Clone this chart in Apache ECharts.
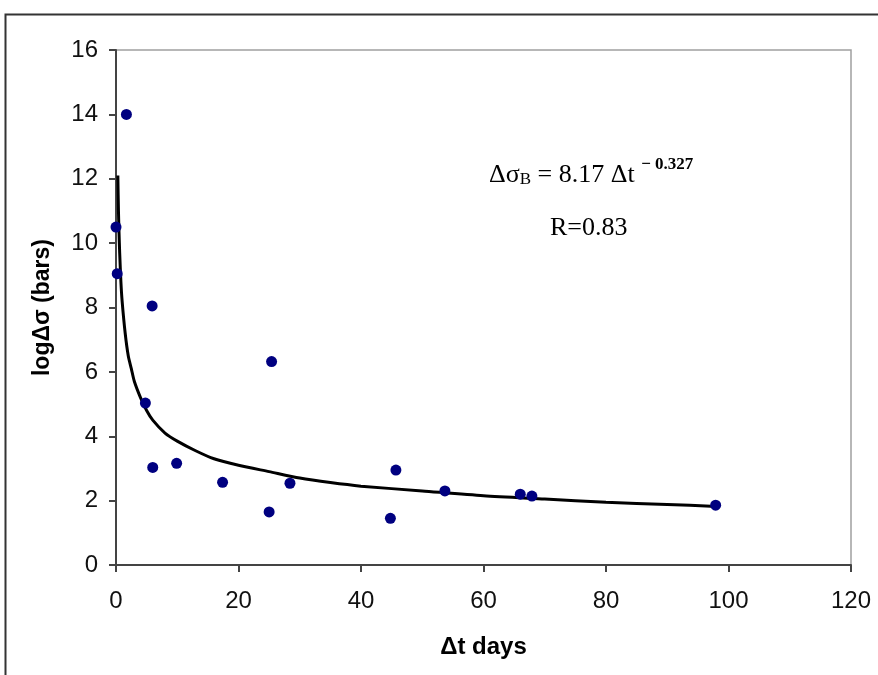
<!DOCTYPE html>
<html>
<head>
<meta charset="utf-8">
<script src="https://cdn.jsdelivr.net/npm/echarts@6/dist/echarts.min.js"></script>
<style>
html,body{margin:0;padding:0;background:#fff;}
#chart{width:878px;height:675px;}
</style>
</head>
<body>
<div id="chart"></div>
<script>
// Observed data points (Δt days, logΔσ bars)
var pointX = [1.7, 0.0, 0.2, 5.9, 4.8, 6.0, 9.9, 17.4, 25.0, 25.4, 28.4, 44.8, 45.7, 53.7, 66.0, 67.9, 97.9];
var pointY = [14.0, 10.5, 9.05, 8.05, 5.03, 3.03, 3.16, 2.57, 1.65, 6.32, 2.54, 1.45, 2.95, 2.30, 2.20, 2.14, 1.86];

// Fitted curve
var curveX = [0.3, 0.4, 0.5, 0.6, 0.8, 1.0, 1.5, 2.0, 2.5, 3.0, 4.0, 5.0, 6.0, 8.0, 10, 13, 16, 20, 25, 30, 35, 40, 50, 60, 70, 80, 90, 98];
var curveY = [12.1, 11.0, 10.3, 9.7, 8.8, 8.2, 7.2, 6.5, 6.1, 5.7, 5.2, 4.8, 4.5, 4.1, 3.85, 3.55, 3.3, 3.1, 2.9, 2.7, 2.56, 2.45, 2.3, 2.15, 2.05, 1.95, 1.88, 1.82];

var xTicks = [0, 20, 40, 60, 80, 100, 120];
var yTicks = [0, 2, 4, 6, 8, 10, 12, 14, 16];

var chart = echarts.init(document.getElementById('chart'));
var pts = pointX.map(function (x, i) { return [x, pointY[i]]; });
var crv = curveX.map(function (x, i) { return [x, curveY[i]]; });

chart.setOption({
  animation: false,
  backgroundColor: '#fff',
  grid: {
    left: 116, top: 50, right: 27, bottom: 110,
    show: true, borderColor: '#a0a0a0', borderWidth: 1.5, backgroundColor: 'transparent'
  },
  xAxis: {
    type: 'value',
    min: xTicks[0], max: xTicks[xTicks.length - 1], interval: 20,
    name: 'Δt days', nameLocation: 'middle', nameGap: 70,
    nameTextStyle: { fontFamily: 'Liberation Sans', fontWeight: 'bold', fontSize: 24, color: '#000' },
    axisLine: { show: true, lineStyle: { color: '#444', width: 2 } },
    axisTick: { show: true, inside: false, length: 7, lineStyle: { color: '#444', width: 2 } },
    axisLabel: { margin: 24, fontFamily: 'Liberation Sans', fontSize: 24, color: '#111' },
    splitLine: { show: false }
  },
  yAxis: {
    type: 'value',
    min: yTicks[0], max: yTicks[yTicks.length - 1], interval: 2,
    name: 'logΔσ (bars)', nameLocation: 'middle', nameGap: 62, nameRotate: 90,
    nameTextStyle: { fontFamily: 'Liberation Sans', fontWeight: 'bold', fontSize: 23, color: '#000' },
    axisLine: { show: true, lineStyle: { color: '#444', width: 2 } },
    axisTick: { show: true, inside: false, length: 7, lineStyle: { color: '#444', width: 2 } },
    axisLabel: { margin: 18, fontFamily: 'Liberation Sans', fontSize: 24, color: '#111' },
    splitLine: { show: false }
  },
  series: [
    {
      type: 'line', data: crv, showSymbol: false, symbol: 'none',
      smooth: 0.25,
      lineStyle: { color: '#000', width: 3 }, z: 2
    },
    {
      type: 'scatter', data: pts, symbol: 'circle', symbolSize: 11,
      itemStyle: { color: '#000080', opacity: 1 }, z: 3
    }
  ],
  graphic: [
    {
      type: 'rect', left: 3, top: 12, silent: true,
      shape: { x: 0, y: 0, width: 900, height: 700 },
      style: { fill: 'none', stroke: '#333', lineWidth: 2 }
    },
    {
      type: 'text', left: 489, top: 156,
      style: {
        text: '{a|Δσ}{s|B}{a| = 8.17 Δt }{p|− 0.327}',
        rich: {
          a: { fontFamily: 'Liberation Serif', fontSize: 26, fill: '#000', verticalAlign: 'bottom', lineHeight: 32 },
          s: { fontFamily: 'Liberation Serif', fontSize: 17, fill: '#000', verticalAlign: 'bottom', lineHeight: 23 },
          p: { fontFamily: 'Liberation Serif', fontSize: 17, fontWeight: 'bold', fill: '#000', verticalAlign: 'top', lineHeight: 32 }
        }
      }
    },
    {
      type: 'text', left: 550, top: 215,
      style: { text: 'R=0.83', fontFamily: 'Liberation Serif', fontSize: 26, fill: '#000' }
    }
  ]
});
</script>
</body>
</html>
